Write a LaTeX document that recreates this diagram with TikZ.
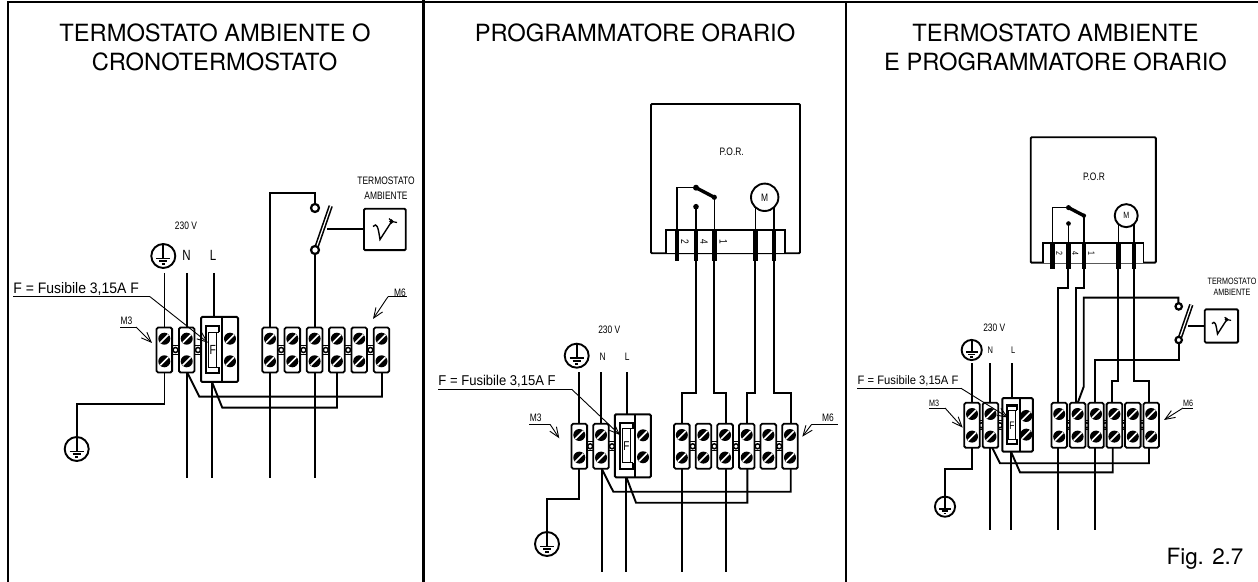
\documentclass[tikz,border=0pt]{standalone}
\usepackage{fontspec}
\setmainfont{TeX Gyre Heros}
\newfontfamily\narrowfont[FakeStretch=0.78]{Liberation Sans}
\newfontfamily\fusefont[FakeStretch=0.92]{Liberation Sans}
\usetikzlibrary{arrows.meta}
\tikzset{
	border/.style={line width=1.25pt},
	wire/.style={line width=0.95pt},
	leader/.style={line width=0.45pt},
	barb/.style={leader,-{Straight Barb[length=5pt,width=4pt]}},
	title/.style={font=\fontsize{11.85}{14}\selectfont,inner sep=0pt},
	small/.style={font=\narrowfont\fontsize{5.4}{6}\selectfont,inner sep=0pt},
	screw/.pic={
		\fill (0,0) circle (6);
		\draw[white,line width=0.8pt] (-4,4) -- (4,-4);
	},
	clamp/.pic={
		\draw[line width=0.9pt,fill=white,rounded corners=0.8pt] (-7.8,-22.5) rectangle (7.8,22.5);
		\pic at (0,-11.3) {screw};
		\pic at (0,11.3) {screw};
	},
	link/.pic={
		\draw[line width=0.6pt] (-3.5,-4.5) -- (3.5,-4.5) (-3.5,4.5) -- (3.5,4.5);
		\draw[line width=0.75pt] (0,0) circle (2.5);
	},
	terminals/.pic={
		\foreach \x in {11.2,33.7,116.9,139.2,161.5,183.8,206.1} \pic at (\x,0) {link};
		\foreach \x in {0,22.4,105.7,128,150.3,172.6,194.9,217.2} \pic at (\x,0) {clamp};
		%fuse
		\draw[line width=1pt,fill=white,rounded corners=0.6pt] (36.7,-33) rectangle (73.7,32);
		\draw[line width=0.9pt] (57.7,-33) -- (57.7,32);
		\pic at (65.7,-11.3) {screw};
		\pic at (65.7,11.3) {screw};
		\draw[line width=1.1pt] (55,-18) -- (55,-24) -- (42,-24) -- (42,23) -- (55,23) -- (55,17);
		\draw[line width=0.45pt] (49,-18) -- (44.5,-18) -- (44.5,17) -- (49,17) (44.5,-18) -- (55,-18) (44.5,17) -- (55,17) (52.5,-18) -- (52.5,17);
		\node[small,transform shape,font=\narrowfont\fontsize{6.6}{7}\selectfont] (F) at (48.5,0) {F};
	},
	earth/.pic={
		\draw[line width=0.95pt,fill=white] (0,0) circle (12);
		\draw[line width=0.85pt] (0,-12) -- (0,2.5);
		\draw[line width=0.85pt] (-7,2.5) -- (7,2.5) (-4,5.3) -- (4,5.3);
		\draw[line width=0.85pt] (-1.6,8) -- (1.6,8);
	},
	tswitch/.pic={
		\draw[line width=0.8pt,double=white,double distance=0.6pt] (0.5,0) -- (15.7,-44);
		\draw[line width=1.1pt,fill=white] (0,0) circle (4);
		\draw[line width=1.1pt,fill=white] (0,-42) circle (4);
	},
	tbox/.pic={
		\draw[wire,rounded corners=0.6pt] (0,-20.7) rectangle (41.7,20.7);
		\draw[line width=0.7pt] (9,-3) .. controls (13,-7) and (14,-3) .. (16,10) -- (27,-7);
		\draw[line width=0.7pt] (27.5,-8) circle (1.4);
		\draw[line width=0.6pt] (25,-11) -- (28,-8) -- (33,-7);
	},
	porbox/.pic={
		\draw[wire,rounded corners=0.5pt] (0,0) rectangle (149,-149.3);
		\draw[wire,fill=white] (15,0) -- (15,-23.3) -- (134.3,-23.3) -- (134.3,0);
		\draw[line width=0.75pt] (26,-22) -- (26,-65.6) -- (45,-65.6);
		\draw[line width=0.75pt] (45,-46.6) -- (45,-22) (63.3,-56) -- (63.3,-22);
		\draw[line width=0.75pt] (104.3,-46) -- (104.3,-22) (123,-46) -- (123,-22);
		\draw[line width=1.7pt] (45,-65.6) -- (63.3,-56);
		\fill (45,-65.6) circle (3) (45,-46.6) circle (2.8) (63.3,-56) circle (2.6);
		\foreach \x in {26,45,63.3,104.3,123} \draw[line width=2.2pt] (\x,-22.3) -- (\x,7.7);
		\draw[wire] (113.7,-56) circle (13.7);
		\node[small,transform shape] (M) at (113.7,-56) {M};
		\node[small,transform shape,rotate=-90] (pin2) at (34,-11) {2};
		\node[small,transform shape,rotate=-90] (pin4) at (53,-11) {4};
		\node[small,transform shape,rotate=-90] (pin1) at (72.3,-11) {1};
	},
}
\begin{document}
\begin{tikzpicture}[x=0.5pt,y=-0.5pt]
	\useasboundingbox (0,0) rectangle (1258,582);

	%frame
	\draw[border] (8,582) -- (8,2) -- (1258,2);
	\draw[border] (423.5,0) -- (423.5,582);
	\draw[border] (846,2) -- (846,582);

	%titles
	\node[title] (title1a) at (215,33) {TERMOSTATO AMBIENTE O};
	\node[title] (title1b) at (214.5,62) {CRONOTERMOSTATO};
	\node[title] (title2) at (635,33) {PROGRAMMATORE ORARIO};
	\node[title] (title3a) at (1055.5,33) {TERMOSTATO AMBIENTE};
	\node[title] (title3b) at (1055.5,62) {E PROGRAMMATORE ORARIO};
	\node[font=\fontsize{11.2}{14}\selectfont,inner sep=0pt] (figlabel) at (1205,559) {Fig. 2.7};

	%panel1
	\draw[wire] (164.5,273) -- (164.5,327) (187,273) -- (187,327) (214,273) -- (214,317);
	\draw[wire] (164.5,372) -- (164.5,404) -- (76.7,404) -- (76.7,437);
	\draw[wire] (187,372) -- (187,478) (212,382) -- (212,478) (270,372) -- (270,478) (315,372) -- (315,478);
	\draw[wire] (187,372) -- (199.3,396.7) -- (382,396.7) -- (382,372);
	\draw[wire] (212,382) -- (222.3,407.7) -- (337,407.7) -- (337,372);
	\draw[wire] (270,327) -- (270,192.7) -- (315,192.7) -- (315,208);
	\draw[wire] (315,250) -- (315,327);
	\draw[wire] (327,229) -- (364,229);
	\pic at (164.3,350) {terminals};
	\pic at (163.3,256) {earth};
	\pic at (76.7,449) {earth};
	\pic at (315,250) {tswitch};
	\pic at (364,229.5) {tbox};
	\node[small] (volt1) at (186,226) {230 V};
	\node[small,font=\narrowfont\fontsize{7.4}{8}\selectfont] (N1) at (186.5,255) {N};
	\node[small,font=\narrowfont\fontsize{7.4}{8}\selectfont] (L1) at (213,255) {L};
	\node[small] (therm1a) at (386,181) {TERMOSTATO};
	\node[small] (therm1b) at (386,196) {AMBIENTE};
	\node[font=\fusefont\fontsize{7.6}{8}\selectfont,inner sep=0pt,anchor=base west] (fuse1) at (13,293.5) {F = Fusibile 3,15A F};
	\draw[leader] (13,296.7) -- (150,296.7);
	\draw[barb] (150,296.7) -- (208,342.7);
	\node[small] (M3a) at (126.5,321) {M3};
	\draw[leader] (120,327) -- (136,327);
	\draw[barb] (136,327) -- (152,343);
	\node[small] (M6a) at (400,293) {M6};
	\draw[leader] (388,296.7) -- (407,296.7);
	\draw[barb] (388,296.7) -- (373,319);

	%panel2
	\draw[wire] (579.3,372.3) -- (579.3,424) (601.3,372.3) -- (601.3,424) (627,372.3) -- (627,415);
	\draw[wire] (579.3,468) -- (579.3,499.3) -- (546.7,499.3) -- (546.7,532);
	\draw[wire] (601.7,468) -- (601.7,571.7) (626,478) -- (626,571.7) (682.3,468) -- (682.3,571.7) (725.7,468) -- (725.7,571.7);
	\draw[wire] (601.3,468) -- (613.3,491.7) -- (790.7,491.7) -- (790.7,468);
	\draw[wire] (626.7,478) -- (636,502.7) -- (747.3,502.7) -- (747.3,468);
	\draw[wire] (682.3,424) -- (682.3,393.3) -- (696,393.3) -- (696,261);
	\draw[wire] (725.7,424) -- (725.7,393.3) -- (714.3,393.3) -- (714.3,261);
	\draw[wire] (747.3,424) -- (747.3,393.3) -- (755.3,393.3) -- (755.3,261);
	\draw[wire] (790.7,424) -- (790.7,393.3) -- (774,393.3) -- (774,261);
	\pic[scale=0.97] at (579.3,446.3) {terminals};
	\pic at (576.7,355.7) {earth};
	\pic at (547,544) {earth};
	\pic at (651,253.3) {porbox};
	\node[small] (por2) at (731.7,151.7) {P.O.R.};
	\node[small] (volt2) at (609.3,330) {230 V};
	\node[small] (N2) at (602.7,357) {N};
	\node[small] (L2) at (627.3,357) {L};
	\node[font=\fusefont\fontsize{7.1}{8}\selectfont,inner sep=0pt,anchor=base west] (fuse2) at (438,386) {F = Fusibile 3,15A F};
	\draw[leader] (438,389.3) -- (571.7,389.3);
	\draw[barb] (571.7,389.3) -- (620,435);
	\node[small] (M3b) at (535.7,418) {M3};
	\draw[leader] (529,424.3) -- (550,424.3);
	\draw[barb] (550,424.3) -- (559.3,438.3);
	\node[small] (M6b) at (828,418) {M6};
	\draw[leader] (811.7,424.3) -- (838,424.3);
	\draw[barb] (811.7,424.3) -- (802.3,436.7);

	%panel3
	\draw[wire] (972,363.3) -- (972,406.7) (990.3,363.3) -- (990.3,406.7) (1012,363.3) -- (1012,399);
	\draw[wire] (972,444) -- (972,469.3) -- (945,469.3) -- (945,496.7);
	\draw[wire] (990.3,444) -- (990.3,530) (1011,451.7) -- (1011,530) (1058.3,444) -- (1058.3,530) (1095,444) -- (1095,530);
	\draw[wire] (990.3,444) -- (1000,463.3) -- (1149,463.3) -- (1149,444);
	\draw[wire] (1011,451.7) -- (1020,472.3) -- (1112.7,472.3) -- (1112.7,444);
	\draw[wire] (1068,269) -- (1068,287.7) -- (1058.3,287.7) -- (1058.3,406.7);
	\draw[wire] (1083.7,269) -- (1083.7,287.7) -- (1076.3,287.7) -- (1076.3,406.7);
	\draw[wire] (1178.3,306.7) -- (1178.3,297.7) -- (1083.7,297.7) -- (1083.7,386.7) -- (1076.3,406.7);
	\draw[wire] (1178.7,340) -- (1178.7,360) -- (1095,360) -- (1095,406.7);
	\draw[wire] (1118,269) -- (1118,380.7) -- (1112.3,380.7) -- (1112.3,406.7);
	\draw[wire] (1133.7,269) -- (1133.7,380.7) -- (1149,380.7) -- (1149,406.7);
	\draw[wire] (1188,326) -- (1204.7,326);
	\pic[scale=0.825] at (972,425.3) {terminals};
	\pic[scale=0.84] at (971.7,350) {earth};
	\pic[scale=0.84] at (945,506.7) {earth};
	\pic[scale=0.84] at (1030.7,262.7) {porbox};
	\pic[scale=0.8] at (1178.7,340) {tswitch};
	\pic[scale=0.8] at (1204.7,326) {tbox};
	\node[small] (por3) at (1094,176.7) {P.O.R};
	\node[small] (volt3) at (994.3,327.7) {230 V};
	\node[small,font=\narrowfont\fontsize{4.8}{6}\selectfont] (N3) at (990.3,350.3) {N};
	\node[small,font=\narrowfont\fontsize{4.8}{6}\selectfont] (L3) at (1013.3,350.3) {L};
	\node[small,font=\narrowfont\fontsize{4.6}{6}\selectfont] (therm3a) at (1232,281) {TERMOSTATO};
	\node[small,font=\narrowfont\fontsize{4.6}{6}\selectfont] (therm3b) at (1232,292.7) {AMBIENTE};
	\node[font=\fusefont\fontsize{6.1}{8}\selectfont,inner sep=0pt,anchor=base west] (fuse3) at (857.3,385) {F = Fusibile 3,15A F};
	\draw[leader] (857,388.3) -- (961,388.3);
	\draw[barb] (961,388.3) -- (1008.3,417.7);
	\node[small,font=\narrowfont\fontsize{4.6}{6}\selectfont] (M3c) at (934,403) {M3};
	\draw[leader] (929,408) -- (945,408);
	\draw[barb] (945,408) -- (962.7,427.7);
	\node[small,font=\narrowfont\fontsize{4.6}{6}\selectfont] (M6c) at (1188,403) {M6};
	\draw[leader] (1183,408) -- (1193,408);
	\draw[barb] (1183,408) -- (1164,420);
\end{tikzpicture}
\end{document}
